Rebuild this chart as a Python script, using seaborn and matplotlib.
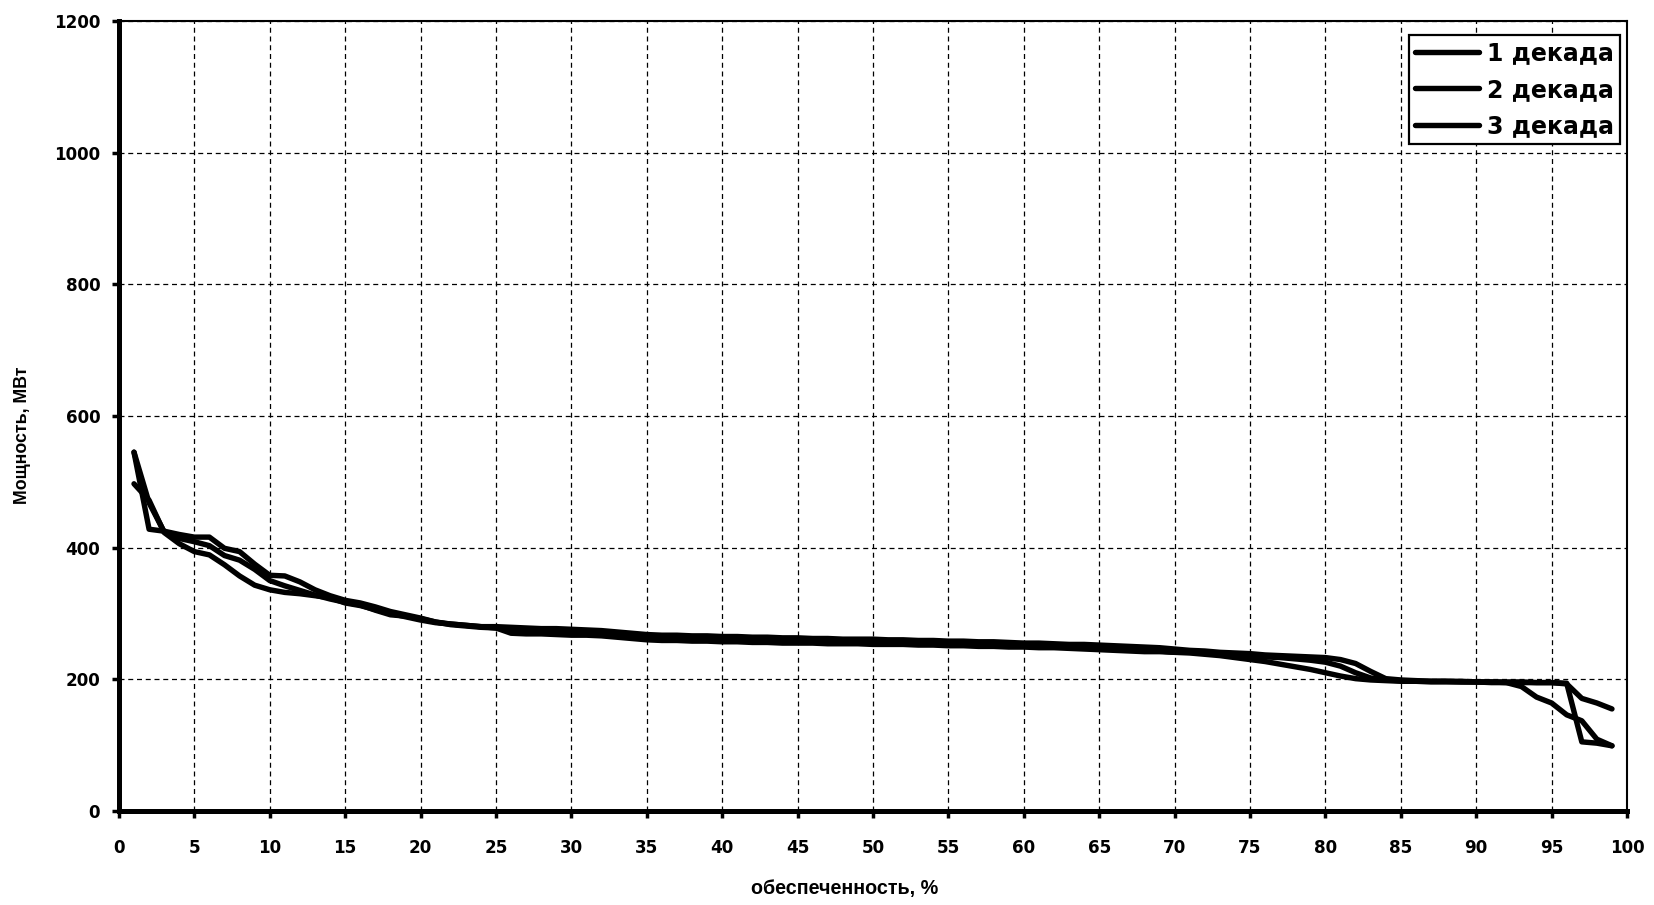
import numpy as np
import seaborn as sns
from matplotlib import pyplot as plt

# обеспеченность, % (1..99)
x = list(range(1, 100))

dekada_1 = [545, 428, 425, 420, 416, 416, 399, 394, 375, 358, 357, 348, 336,
            327, 320, 316, 310, 303, 298, 293, 287, 284, 282, 280, 280,
            279, 278, 277, 277, 276, 275, 274, 272, 270,
            268, 267, 267, 266, 266, 265, 265, 264, 264, 263, 263, 262,
            262, 261, 261, 261, 260, 260, 259, 259, 258, 258, 257, 257,
            256, 255, 255, 254, 253, 253, 252, 251, 250, 249, 248, 246,
            244, 243, 241, 240, 239, 237, 236, 235, 234, 233, 230, 224, 212, 201, 199,
            198, 197, 197, 197, 196, 196, 195, 195, 195, 195, 193, 171, 164, 155]

dekada_2 = [545, 468, 424, 414, 409, 403, 388, 381, 367, 350, 342, 335, 328,
            322, 317, 313, 305, 298, 296, 292, 287, 283, 281, 279, 278,
            270, 269, 269, 268, 267, 267, 266, 264, 262,
            260, 259, 259, 258, 258, 257, 257, 256, 256, 255, 255, 255,
            254, 254, 254, 253, 253, 253, 252, 252, 251, 251, 250, 250,
            249, 249, 248, 248, 247, 246, 245, 244, 243, 242, 242, 241,
            241, 240, 239, 237, 236, 234, 233, 231, 229, 226, 220, 210, 202, 199, 198,
            197, 197, 197, 196, 196, 196, 196, 196, 195, 195, 194, 105, 103, 99]

dekada_3 = [497, 472, 423, 406, 394, 389, 374, 357, 343, 336, 332, 330, 327,
            324, 316, 312, 306, 300, 295, 290, 286, 284, 282, 280, 278,
            274, 273, 272, 272, 271, 270, 269, 267, 265,
            263, 262, 262, 261, 261, 260, 260, 259, 259, 258, 258, 258,
            257, 257, 257, 256, 256, 255, 255, 254, 254, 253, 253, 252,
            252, 251, 251, 250, 249, 249, 248, 247, 246, 244, 243, 241,
            240, 238, 236, 233, 230, 227, 223, 219, 215, 210, 205, 201, 199, 198, 197,
            197, 196, 196, 196, 196, 195, 195, 189, 173, 164, 146, 137, 109, 99]

labels = ["1 декада", "2 декада", "3 декада"]

sns.set_style("white")
plt.rcParams['font.family'] = ['Liberation Sans', 'DejaVu Sans']
plt.rcParams['text.color'] = 'black'
plt.rcParams['axes.labelcolor'] = 'black'
plt.rcParams['xtick.color'] = 'black'
plt.rcParams['ytick.color'] = 'black'

fig = plt.figure(figsize=(16.54, 9.05), dpi=100)
ax = fig.add_axes([0.0719, 0.1039, 0.9118, 0.8729])

for vals, lab in zip([dekada_1, dekada_2, dekada_3], labels):
    sns.lineplot(x=x, y=vals, color='black', linewidth=3.9, label=lab, ax=ax,
                 solid_capstyle='round', solid_joinstyle='round')

ax.set_xlim(0, 100)
ax.set_ylim(0, 1200)
ax.set_xticks(np.arange(0, 101, 5))
ax.set_yticks(np.arange(0, 1201, 200))
ax.grid(True, color='black', linestyle=(0, (4, 3)), linewidth=0.9)
ax.set_axisbelow(True)

for side in ['left', 'bottom']:
    ax.spines[side].set_linewidth(3.6)
    ax.spines[side].set_color('black')
for side in ['top', 'right']:
    ax.spines[side].set_linewidth(1.5)
    ax.spines[side].set_color('black')

ax.tick_params(axis='both', direction='out', length=5, width=2.5, color='black',
               labelcolor='black', left=True, bottom=True)
ax.tick_params(axis='x', pad=15)
ax.tick_params(axis='y', pad=8.5)
for t in ax.get_xticklabels() + ax.get_yticklabels():
    t.set_fontfamily('DejaVu Sans')
    t.set_fontweight('bold')
    t.set_fontsize(12.1)

ax.set_xlabel("обеспеченность, %", fontsize=14.2, fontweight='bold', color='black')
ax.set_ylabel("Мощность, МВт", fontsize=12.8, fontweight='bold', color='black')
ax.xaxis.set_label_coords(0.481, -0.086)
ax.yaxis.set_label_coords(-0.058, 0.476)

leg = ax.legend(loc='upper right', bbox_to_anchor=(0.9954, 0.9823),
                borderaxespad=0, frameon=True, fancybox=False,
                prop={'family': 'DejaVu Sans', 'weight': 'bold', 'size': 17},
                edgecolor='black', framealpha=1, handlelength=2.7,
                handletextpad=0.35, labelspacing=0.53, borderpad=0.26)
leg.get_frame().set_linewidth(1.6)
for t in leg.get_texts():
    t.set_color('black')

plt.savefig("out.png", dpi=100)
